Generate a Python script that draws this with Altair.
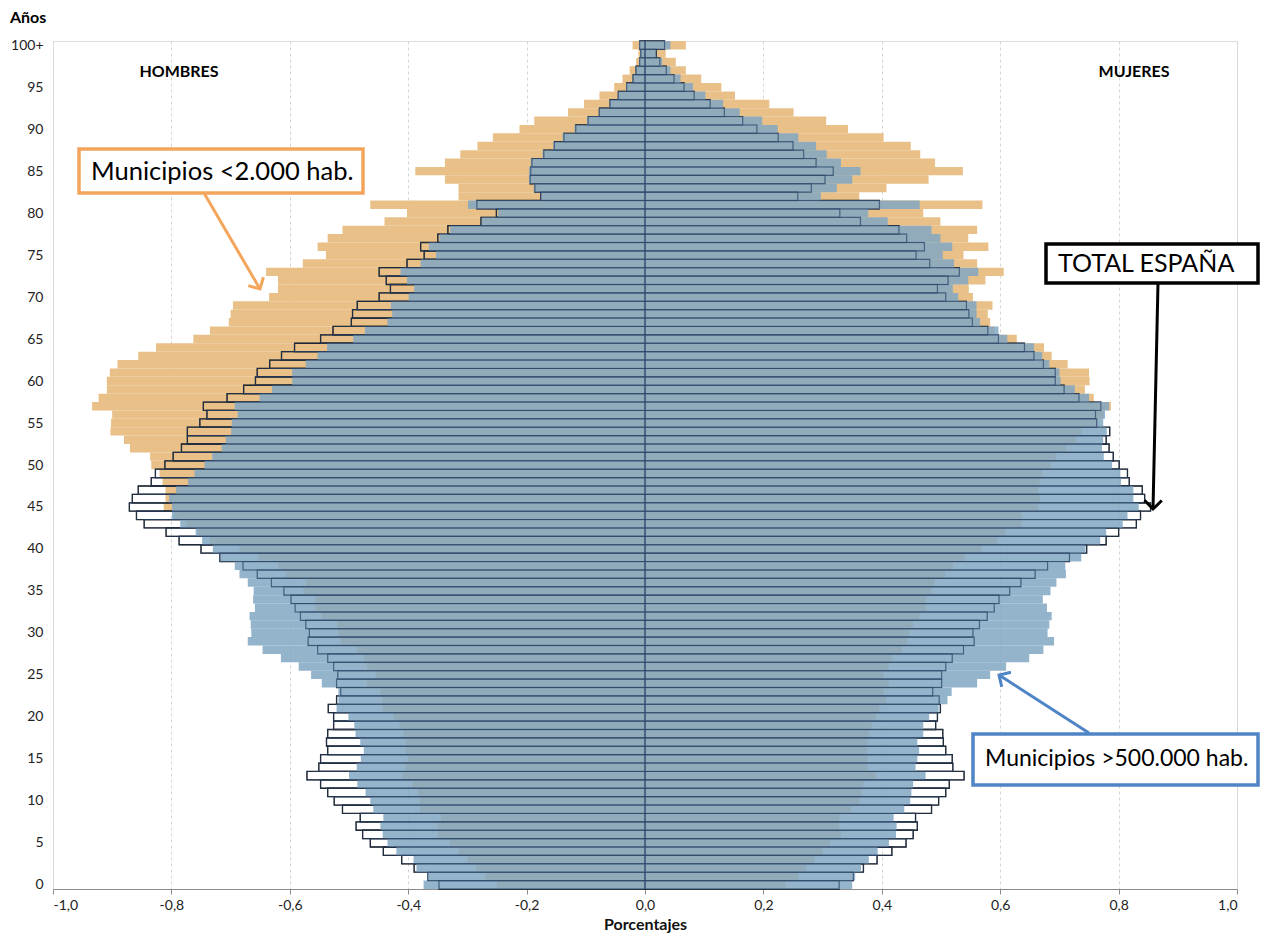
import altair as alt
import pandas as pd

ages = list(range(101))

# Hombres (valores en %; se dibujan a la izquierda)
men_total = [0.348, 0.367, 0.39, 0.411, 0.442, 0.464, 0.477, 0.488, 0.481, 0.511,
             0.525, 0.536, 0.548, 0.571, 0.551, 0.548, 0.536, 0.538, 0.536, 0.526,
             0.526, 0.535, 0.521, 0.514, 0.521, 0.519, 0.526, 0.536, 0.553, 0.569,
             0.567, 0.573, 0.582, 0.591, 0.598, 0.61, 0.631, 0.655, 0.679, 0.718,
             0.75, 0.787, 0.809, 0.846, 0.859, 0.871, 0.866, 0.856, 0.834, 0.827,
             0.811, 0.797, 0.783, 0.773, 0.773, 0.752, 0.74, 0.746, 0.706, 0.678,
             0.658, 0.655, 0.634, 0.614, 0.592, 0.548, 0.527, 0.496, 0.494, 0.486,
             0.449, 0.43, 0.437, 0.449, 0.402, 0.373, 0.379, 0.35, 0.333, 0.277,
             0.251, 0.284, 0.176, 0.186, 0.194, 0.193, 0.191, 0.171, 0.153, 0.137,
             0.117, 0.096, 0.077, 0.059, 0.045, 0.031, 0.02, 0.015, 0.009, 0.007,
             0.009]
men_big = [0.374, 0.368, 0.386, 0.391, 0.42, 0.435, 0.443, 0.447, 0.442, 0.459,
           0.464, 0.472, 0.486, 0.50, 0.487, 0.48, 0.475, 0.481, 0.489, 0.491,
           0.501, 0.521, 0.518, 0.518, 0.546, 0.564, 0.585, 0.615, 0.646, 0.671,
           0.665, 0.666, 0.668, 0.659, 0.662, 0.661, 0.671, 0.685, 0.693, 0.718,
           0.73, 0.748, 0.759, 0.785, 0.799, 0.799, 0.804, 0.792, 0.772, 0.761,
           0.744, 0.731, 0.715, 0.708, 0.699, 0.698, 0.688, 0.693, 0.651, 0.63,
           0.596, 0.596, 0.573, 0.553, 0.537, 0.493, 0.473, 0.435, 0.427, 0.429,
           0.399, 0.39, 0.402, 0.413, 0.379, 0.353, 0.365, 0.347, 0.329, 0.276,
           0.248, 0.299, 0.176, 0.188, 0.196, 0.196, 0.193, 0.173, 0.155, 0.139,
           0.119, 0.098, 0.078, 0.06, 0.046, 0.032, 0.021, 0.016, 0.01, 0.008,
           0.01]
men_small = [0.25, 0.27, 0.285, 0.30, 0.315, 0.33, 0.35, 0.35, 0.345, 0.38,
             0.38, 0.383, 0.393, 0.41, 0.404, 0.40, 0.404, 0.404, 0.408, 0.415,
             0.425, 0.443, 0.443, 0.447, 0.47, 0.455, 0.47, 0.475, 0.487, 0.514,
             0.518, 0.52, 0.546, 0.557, 0.557, 0.577, 0.573, 0.607, 0.62, 0.653,
             0.685, 0.735, 0.755, 0.775, 0.795, 0.813, 0.81, 0.81, 0.815, 0.82,
             0.834, 0.836, 0.87, 0.88, 0.903, 0.902, 0.90, 0.934, 0.923, 0.909,
             0.909, 0.904, 0.891, 0.856, 0.826, 0.763, 0.735, 0.703, 0.70, 0.696,
             0.635, 0.62, 0.62, 0.64, 0.578, 0.539, 0.553, 0.536, 0.511, 0.44,
             0.402, 0.464, 0.315, 0.315, 0.338, 0.388, 0.338, 0.312, 0.283, 0.257,
             0.212, 0.187, 0.13, 0.103, 0.077, 0.052, 0.038, 0.026, 0.015, 0.011,
             0.021]

# Mujeres (se dibujan a la derecha)
women_total = [0.328, 0.352, 0.369, 0.392, 0.417, 0.441, 0.453, 0.46, 0.457, 0.484,
               0.496, 0.508, 0.514, 0.539, 0.52, 0.519, 0.508, 0.504, 0.503, 0.491,
               0.494, 0.499, 0.497, 0.486, 0.501, 0.501, 0.508, 0.519, 0.538, 0.556,
               0.554, 0.565, 0.578, 0.59, 0.598, 0.616, 0.635, 0.659, 0.68, 0.717,
               0.746, 0.779, 0.80, 0.83, 0.837, 0.854, 0.844, 0.84, 0.818, 0.815,
               0.801, 0.791, 0.784, 0.779, 0.785, 0.763, 0.761, 0.77, 0.733, 0.708,
               0.693, 0.693, 0.673, 0.657, 0.641, 0.597, 0.579, 0.553, 0.547, 0.543,
               0.508, 0.494, 0.512, 0.531, 0.481, 0.458, 0.472, 0.442, 0.429, 0.364,
               0.329, 0.396, 0.258, 0.281, 0.304, 0.318, 0.289, 0.268, 0.25, 0.225,
               0.189, 0.165, 0.134, 0.11, 0.083, 0.066, 0.049, 0.036, 0.025, 0.019,
               0.033]
women_big = [0.35, 0.355, 0.365, 0.378, 0.393, 0.412, 0.424, 0.425, 0.42, 0.438,
             0.448, 0.45, 0.453, 0.474, 0.457, 0.46, 0.463, 0.46, 0.47, 0.47,
             0.48, 0.496, 0.511, 0.518, 0.561, 0.583, 0.61, 0.649, 0.673, 0.691,
             0.68, 0.683, 0.687, 0.679, 0.672, 0.685, 0.695, 0.711, 0.71, 0.737,
             0.744, 0.769, 0.779, 0.807, 0.815, 0.834, 0.825, 0.825, 0.804, 0.803,
             0.789, 0.775, 0.772, 0.774, 0.78, 0.774, 0.777, 0.784, 0.75, 0.726,
             0.702, 0.70, 0.683, 0.671, 0.657, 0.612, 0.597, 0.566, 0.56, 0.56,
             0.529, 0.52, 0.546, 0.563, 0.522, 0.503, 0.519, 0.499, 0.484, 0.41,
             0.377, 0.464, 0.297, 0.324, 0.35, 0.364, 0.331, 0.307, 0.289, 0.259,
             0.224, 0.198, 0.16, 0.132, 0.102, 0.081, 0.06, 0.043, 0.029, 0.019,
             0.043]
women_small = [0.237, 0.259, 0.272, 0.287, 0.30, 0.313, 0.331, 0.328, 0.328, 0.348,
               0.362, 0.366, 0.369, 0.39, 0.376, 0.376, 0.375, 0.376, 0.379, 0.383,
               0.39, 0.396, 0.407, 0.403, 0.412, 0.403, 0.412, 0.418, 0.434, 0.443,
               0.446, 0.453, 0.464, 0.474, 0.475, 0.484, 0.489, 0.507, 0.521, 0.54,
               0.568, 0.595, 0.609, 0.636, 0.636, 0.664, 0.667, 0.664, 0.667, 0.671,
               0.685, 0.695, 0.712, 0.729, 0.738, 0.765, 0.775, 0.787, 0.758, 0.743,
               0.751, 0.75, 0.714, 0.687, 0.674, 0.628, 0.59, 0.583, 0.579, 0.587,
               0.554, 0.547, 0.575, 0.606, 0.561, 0.538, 0.58, 0.546, 0.561, 0.499,
               0.47, 0.57, 0.362, 0.408, 0.479, 0.537, 0.49, 0.465, 0.449, 0.403,
               0.343, 0.306, 0.251, 0.21, 0.152, 0.129, 0.095, 0.069, 0.052, 0.035,
               0.069]

x_ticks = [-1.0, -0.8, -0.6, -0.4, -0.2, 0.0, 0.2, 0.4, 0.6, 0.8, 1.0]
y_ticks = list(range(0, 101, 5))


def build(men, women):
    rows = []
    for a in ages:
        rows.append({"age": a, "x0": 0.0, "v": -men[a], "y0": a - 0.5, "y1": a + 0.5})
        rows.append({"age": a, "x0": 0.0, "v": women[a], "y0": a - 0.5, "y1": a + 0.5})
    return pd.DataFrame(rows)


df_small = build(men_small, women_small)
df_total = build(men_total, women_total)
df_big = build(men_big, women_big)

FONT = "Lato"

xenc = alt.X(
    "x0:Q",
    scale=alt.Scale(domain=[-1, 1], nice=False, zero=False),
    axis=alt.Axis(
        values=x_ticks,
        labelExpr="replace(replace(format(datum.value, '.1f'), '.', ','), '\u2212', '-')",
        title="Porcentajes",
        grid=True, gridDash=[3, 3], gridColor="#d4d4d4",
        domainColor="#8c8c8c", tickColor="#8c8c8c", tickSize=5,
        labelFont=FONT, labelFontSize=14, labelColor="#222222", labelPadding=4,
        titleFont=FONT, titleFontSize=16, titleFontWeight="bold", titleColor="#111111",
        titlePadding=4,
    ),
)
yenc = alt.Y(
    "y0:Q",
    scale=alt.Scale(domain=[-0.5, 100.5], nice=False, zero=False),
    axis=alt.Axis(
        values=y_ticks,
        labelExpr="datum.value == 100 ? '100+' : datum.value",
        title=None, grid=False, domain=False, ticks=False,
        labelFont=FONT, labelFontSize=14, labelColor="#222222", labelPadding=10,
    ),
)

small = alt.Chart(df_small).mark_rect(color="#E8C088").encode(x=xenc, x2="v:Q", y=yenc, y2="y1:Q")
total_under = alt.Chart(df_total).mark_rect(
    filled=False, stroke="#111111", strokeWidth=1.3, fillOpacity=0
).encode(x="x0:Q", x2="v:Q", y="y0:Q", y2="y1:Q")
big = alt.Chart(df_big).mark_rect(color="#81A7C3", opacity=0.85).encode(
    x="x0:Q", x2="v:Q", y="y0:Q", y2="y1:Q"
)
total_over = alt.Chart(df_total).mark_rect(
    filled=False, stroke="#2C4468", strokeWidth=1.1, fillOpacity=0, strokeOpacity=0.6
).encode(x="x0:Q", x2="v:Q", y="y0:Q", y2="y1:Q")

one = pd.DataFrame({"k": [0]})


def txt(s, x, y, size, weight="normal", align="left"):
    return alt.Chart(one).mark_text(
        text=s, align=align, baseline="middle", font=FONT, fontSize=size,
        fontWeight=weight, color="#000000"
    ).encode(x=alt.value(x), y=alt.value(y))


def box(x1, x2, y1, y2, col):
    return alt.Chart(one).mark_rect(fill="white", stroke=col, strokeWidth=3.5).encode(
        x=alt.value(x1), x2=alt.value(x2), y=alt.value(y1), y2=alt.value(y2)
    )


def arrow(x1, y1, x2, y2, col, ang):
    line = alt.Chart(one).mark_rule(color=col, strokeWidth=3).encode(
        x=alt.value(x1), y=alt.value(y1), x2=alt.value(x2), y2=alt.value(y2)
    )
    head = alt.Chart(one).mark_point(
        shape="M -1 1 L 0 0 L 1 1", filled=False, size=300, strokeWidth=3,
        color=col, opacity=1, angle=ang
    ).encode(x=alt.value(x2), y=alt.value(y2))
    return line + head


ORANGE = "#F4A55C"
BLUE = "#4F85C6"

annotations = [
    txt("Años", -43, -23, 16, "bold"),
    txt("HOMBRES", 126, 31, 16, "bold", "center"),
    txt("MUJERES", 1081, 31, 16, "bold", "center"),
    arrow(151, 152, 207, 248, ORANGE, 151),
    box(26, 310, 108, 152, ORANGE),
    txt("Municipios <2.000 hab.", 38, 131, 25.5),
    arrow(1105, 242, 1100, 468, "#000000", 181),
    box(993, 1205, 203, 242, "#000000"),
    txt("TOTAL ESPAÑA", 1005, 223, 25),
    arrow(1036, 692, 946, 634, BLUE, 302),
    box(920, 1205, 693, 744, BLUE),
    txt("Municipios >500.000 hab.", 932, 718, 23),
]

chart = alt.layer(small, total_under, big, total_over, *annotations).properties(
    width=1184, height=848,
    padding={"left": 45, "top": 33, "right": 24, "bottom": 45},
    autosize="none",
).configure_view(stroke=None).configure(background="white")

chart.save("out.html", embed_options={"renderer": "svg", "actions": False})
